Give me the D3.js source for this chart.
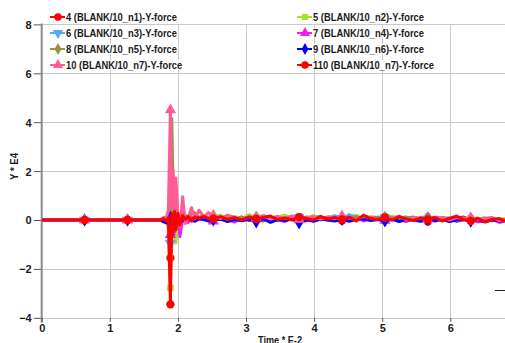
<!DOCTYPE html>
<html>
<head>
<meta charset="utf-8">
<script src="https://cdn.jsdelivr.net/npm/d3@7"></script>
<style>
  body { margin: 0; background: #fff; }
  svg { display: block; }
  text { font-family: "Liberation Sans", Arial, sans-serif; font-weight: bold; fill: #1a1a1a; }
</style>
</head>
<body>
<svg id="chart" width="505" height="343"></svg>
<script>
// time axis, units of E-2
const TIME = [0, 0.63, 1.26, 1.74, 1.79, 1.83, 1.86, 1.89, 1.91, 1.93, 1.95, 1.97, 2.00, 2.03, 2.07, 2.11, 2.15, 2.20, 2.25, 2.31, 2.38, 2.45,
  2.52, 2.625, 2.73, 2.835, 2.94, 3.045, 3.15, 3.255, 3.36, 3.465, 3.57, 3.675, 3.78, 3.885, 3.99, 4.095, 4.20, 4.305, 4.41, 4.515,
  4.62, 4.725, 4.83, 4.935, 5.04, 5.145, 5.25, 5.355, 5.46, 5.565, 5.67, 5.775, 5.88, 5.985, 6.09, 6.195, 6.30, 6.405, 6.51, 6.615, 6.72, 6.825];

// Y force, units of E4
const N1 = [0, 0, 0, 0, 0.05, -0.08, 0.12, -1.55, 0.30, -0.45, 0.25, -0.30, 0.20, -0.15, 0.22, -0.05, 0.12, 0.02, 0.15, 0.05, 0.12, 0.00,
  0.10, 0.02, 0.15, 0.05, 0.12, -0.02, 0.08, 0.14, 0.00, 0.10, 0.04, 0.16, 0.06, -0.04, 0.10, 0.02, 0.12, 0.08, -0.02, 0.10, 0.05,
  0.14, 0.00, 0.08, 0.12, 0.02, 0.06, -0.04, 0.10, 0.04, -0.06, 0.02, 0.08, -0.02, 0.06, 0.12, 0.00, -0.05, 0.04, 0.08, -0.06, 0.02];
const N2 = [0, 0, 0, 0, 0.03, 0.06, -0.40, -2.77, -1.10, 0.15, -0.35, -0.95, 0.05, -0.20, 0.10, 0.00, 0.08, 0.12, 0.02, 0.10, 0.05, 0.08,
  0.12, 0.20, 0.08, 0.15, 0.05, 0.22, 0.10, 0.18, 0.06, 0.12, 0.20, 0.08, 0.14, 0.04, 0.18, 0.10, 0.06, 0.16, 0.08, 0.12, 0.20,
  0.04, 0.14, 0.10, 0.06, 0.16, 0.08, 0.12, 0.02, 0.10, 0.14, 0.04, 0.10, 0.06, 0.12, 0.00, 0.08, 0.02, 0.10, -0.02, 0.04, 0.06];
const N3 = [0, 0, 0, 0, -0.05, 0.04, -0.20, -0.95, -0.30, 0.20, -0.60, 0.10, -0.25, 0.05, 0.02, 0.10, -0.05, 0.08, 0.03, 0.06, 0.10, 0.02,
  0.04, 0.10, -0.02, 0.08, 0.02, 0.12, 0.00, 0.06, 0.10, -0.04, 0.08, 0.02, 0.10, 0.04, 0.14, 0.00, 0.08, 0.18, 0.06, 0.22, 0.10,
  0.02, 0.08, 0.04, 0.10, -0.02, 0.06, 0.12, 0.00, 0.08, 0.04, 0.10, -0.02, 0.06, 0.02, 0.08, -0.02, 0.04, 0.06, -0.04, 0.02, 0.00];
const N4 = [0, 0, 0, 0, 0.02, -0.05, 0.10, -0.60, 0.15, 0.30, -0.45, -0.25, 0.10, -0.68, 0.05, 0.10, -0.10, 0.12, 0.05, 0.02, 0.08, 0.10,
  -0.05, 0.08, 0.02, -0.08, 0.10, 0.00, 0.06, -0.04, 0.12, 0.02, -0.06, 0.08, 0.00, 0.10, -0.04, 0.06, 0.02, -0.02, 0.08, 0.00,
  0.12, -0.04, 0.06, 0.10, -0.02, 0.08, 0.02, -0.06, 0.06, 0.00, 0.10, -0.04, 0.04, 0.08, -0.06, 0.02, 0.06, -0.08, 0.00, 0.04, -0.10, -0.02];
const N5 = [0, 0, 0, 0, 0.04, 0.06, 0.20, 0.50, 4.15, 1.10, -0.30, 0.60, -0.10, 0.15, 0.05, 0.20, 0.10, 0.25, 0.30, 0.12, 0.18, 0.08,
  0.18, 0.06, 0.14, 0.02, 0.10, 0.08, 0.12, 0.00, 0.08, 0.14, 0.04, 0.10, 0.02, 0.12, 0.06, 0.16, 0.00, 0.08, 0.10, 0.04, 0.14,
  0.06, 0.00, 0.12, 0.04, 0.10, -0.02, 0.08, 0.12, 0.02, 0.06, 0.00, 0.10, 0.04, -0.02, 0.06, 0.02, 0.08, -0.04, 0.04, 0.00, 0.02];
const N6 = [0, 0, 0, 0, -0.08, -0.12, 0.05, 0.10, -0.30, 0.05, -0.15, 0.10, -0.05, 0.08, 0.00, -0.08, 0.05, 0.00, -0.05, 0.06, 0.02, -0.04,
  0.00, 0.04, -0.06, 0.02, -0.03, 0.03, -0.08, 0.04, -0.10, 0.02, -0.02, 0.04, -0.12, 0.02, -0.05, 0.04, 0.00, -0.04, 0.02, -0.05,
  0.03, 0.05, -0.02, 0.02, -0.04, 0.04, -0.06, 0.02, 0.00, -0.05, 0.02, -0.03, 0.04, -0.06, 0.00, 0.02, -0.05, 0.00, -0.07, 0.01, -0.04, -0.02];
const N7 = [0, 0, 0, 0, 0.10, 0.12, 0.40, 4.50, 0.50, 2.05, -0.20, 1.72, 0.15, -0.30, 0.95, -0.15, 0.10, 0.50, 0.05, 0.40, 0.12, 0.30,
  0.16, 0.06, 0.20, 0.10, 0.02, 0.14, 0.08, 0.18, 0.04, 0.12, 0.06, 0.16, 0.02, 0.10, 0.14, 0.04, 0.12, 0.06, 0.16, 0.08, 0.02,
  0.14, 0.10, 0.04, 0.12, 0.06, 0.16, 0.00, 0.10, 0.06, 0.02, 0.12, 0.08, 0.00, 0.10, 0.04, 0.08, 0.00, 0.06, 0.10, -0.02, 0.04];
const N7B = [0, 0, 0, 0, 0.06, -0.05, 0.10, -3.45, 0.25, -0.60, 0.35, -0.40, 0.28, -0.20, 0.18, 0.02, 0.15, -0.05, 0.12, 0.08, 0.15, 0.05,
  0.05, 0.14, 0.02, 0.10, 0.00, 0.12, 0.04, 0.10, 0.16, 0.02, 0.08, 0.00, 0.12, 0.06, 0.00, 0.14, 0.04, 0.10, 0.02, 0.12, -0.04,
  0.20, 0.06, 0.02, 0.10, 0.00, 0.14, 0.04, -0.02, 0.08, 0.02, 0.10, -0.04, 0.06, 0.16, 0.02, -0.04, 0.06, -0.08, 0.02, 0.06, -0.06];

const LABELS = ["4 (BLANK/10_n1)-Y-force", "5 (BLANK/10_n2)-Y-force", "6 (BLANK/10_n3)-Y-force", "7 (BLANK/10_n4)-Y-force",
  "8 (BLANK/10_n5)-Y-force", "9 (BLANK/10_n6)-Y-force", "10 (BLANK/10_n7)-Y-force", "110 (BLANK/10_n7)-Y-force"];
const VALUES = [N1, N2, N3, N4, N5, N6, N7, N7B];
const COLORS = ["#ff0000", "#a2e22c", "#55aaf5", "#f01ef0", "#95923a", "#0000ff", "#ff5c92", "#ff0000"];
const SYMBOLS = [d3.symbolCircle, d3.symbolSquare, "down", "up", "diamond", "diamond", "up", d3.symbolCircle];

const X_TICKS = [0, 1, 2, 3, 4, 5, 6];
const Y_TICKS = [-4, -2, 0, 2, 4, 6, 8];

const W = 505, H = 343;
const LEFT = 41.7, TOP = 24.4, BOTTOM = 317.8;
const MARKER_STEP = 0.63;

const svg = d3.select("#chart");

const x = d3.scaleLinear().domain([0, 6.8]).range([LEFT, LEFT + 6.8 * 68.1]);
const y = d3.scaleLinear().domain([-4, 8]).range([BOTTOM, TOP]);

function symbolPath(kind, size) {
  if (kind === "up" || kind === "down") return d3.symbol(d3.symbolTriangle, size)();
  if (kind === "diamond") return d3.symbol(d3.symbolDiamond, size * 0.9)();
  return d3.symbol(kind, kind === d3.symbolSquare ? size * 0.8 : size)();
}
function symbolRot(kind) { return kind === "down" ? " rotate(180)" : ""; }

// squeeze a text to the width the reference shows
function fitWidth(sel, w) {
  sel.attr("textLength", w).attr("lengthAdjust", "spacingAndGlyphs");
}

// grid
const grid = svg.append("g").attr("stroke", "#c9c9c9").attr("stroke-width", 1);
grid.selectAll(".gy").data(Y_TICKS).enter().append("line")
  .attr("x1", LEFT).attr("x2", W).attr("y1", d => Math.round(y(d)) + 0.5).attr("y2", d => Math.round(y(d)) + 0.5);
grid.selectAll(".gx").data(X_TICKS.slice(1)).enter().append("line")
  .attr("y1", TOP).attr("y2", BOTTOM).attr("x1", d => Math.round(x(d)) + 0.5).attr("x2", d => Math.round(x(d)) + 0.5);

// y axis
const yAxis = svg.append("g")
  .attr("transform", `translate(${LEFT},0)`)
  .call(d3.axisLeft(y).tickValues(Y_TICKS).tickSize(8).tickPadding(2).tickFormat(d3.format("d")));
yAxis.select(".domain").remove();
yAxis.selectAll("line").attr("stroke", "#555");
yAxis.selectAll("text").attr("font-size", 11).attr("font-family", null).style("fill", "#1a1a1a").attr("dy", "0.36em");
svg.append("line").attr("x1", LEFT).attr("x2", LEFT).attr("y1", TOP - 1).attr("y2", BOTTOM + 5)
  .attr("stroke", "#8a8a8a").attr("stroke-width", 2);

// x axis
const xAxis = svg.append("g")
  .attr("transform", `translate(0,${BOTTOM})`)
  .call(d3.axisBottom(x).tickValues(X_TICKS).tickSize(4).tickPadding(2).tickFormat(d3.format("d")));
xAxis.select(".domain").remove();
xAxis.selectAll("line").attr("stroke", "#555");
xAxis.selectAll("text").attr("font-size", 11).attr("font-family", null).style("fill", "#1a1a1a");

svg.append("text").attr("x", 258).attr("y", 344).attr("font-size", 11).text("Time * E-2").call(fitWidth, 44);
svg.append("text").attr("transform", "translate(18,180) rotate(-90)")
  .attr("font-size", 11).text("Y * E4").call(fitWidth, 27);

// data
svg.append("clipPath").attr("id", "plot-clip").append("rect")
  .attr("x", LEFT).attr("y", TOP - 6).attr("width", W - LEFT).attr("height", BOTTOM - TOP + 12);
const plot = svg.append("g").attr("clip-path", "url(#plot-clip)");

const line = d3.line().x((d, i) => x(TIME[i])).y(d => y(d));
const isMarker = t => t > 0 && Math.abs(t / MARKER_STEP - Math.round(t / MARKER_STEP)) < 1e-6;

VALUES.forEach((vals, k) => {
  const g = plot.append("g");
  g.append("path").attr("d", line(vals)).attr("fill", "none")
    .attr("stroke", COLORS[k]).attr("stroke-width", 3).attr("stroke-linejoin", "round");
  g.selectAll("path.m").data(vals.map((v, i) => [TIME[i], v]).filter(d => isMarker(d[0])))
    .enter().append("path").attr("class", "m")
    .attr("d", symbolPath(SYMBOLS[k], 55))
    .attr("transform", d => `translate(${x(d[0])},${y(d[1])})${symbolRot(SYMBOLS[k])}`)
    .attr("fill", COLORS[k]);
});

// legend
const legend = svg.append("g");
let scale = null;
LABELS.forEach((lab, k) => {
  const col = k % 2, row = Math.floor(k / 2);
  const lx = col === 0 ? 50 : 297;
  const ly = 17 + row * 16;
  const g = legend.append("g");
  const t = g.append("text").attr("x", lx + 16).attr("y", ly + 4).attr("font-size", 10.5).text(lab);
  const w = t.node().getComputedTextLength();
  if (scale === null) scale = 111 / w;
  fitWidth(t, w * scale);
  const bb = t.node().getBBox();
  g.insert("rect", "text").attr("x", bb.x - 1).attr("y", bb.y + 1).attr("width", bb.width + 2).attr("height", bb.height - 2)
    .attr("fill", "#fff");
  g.append("line").attr("x1", lx).attr("x2", lx + 15).attr("y1", ly).attr("y2", ly)
    .attr("stroke", COLORS[k]).attr("stroke-width", 2);
  g.append("path").attr("d", symbolPath(SYMBOLS[k], 45))
    .attr("transform", `translate(${lx + 8},${ly})${symbolRot(SYMBOLS[k])}`).attr("fill", COLORS[k]);
});

// stray dash near right edge
svg.append("line").attr("x1", 495).attr("x2", 505).attr("y1", 290.5).attr("y2", 290.5).attr("stroke", "#222");
</script>
</body>
</html>
